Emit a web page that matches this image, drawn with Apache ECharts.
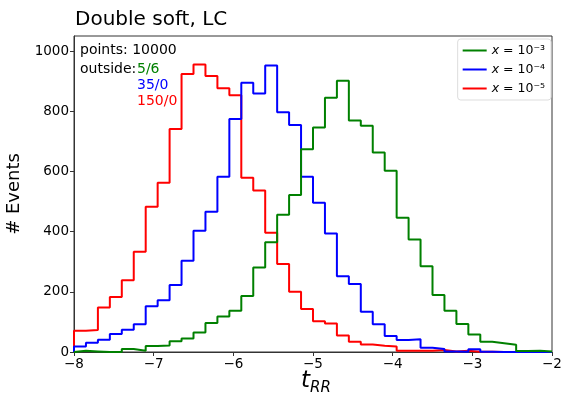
<!DOCTYPE html>
<html>
<head>
<meta charset="utf-8">
<script src="https://cdn.jsdelivr.net/npm/echarts@6/dist/echarts.min.js"></script>
<style>html,body{margin:0;padding:0;background:#fff;}#c{width:562px;height:395px;}</style>
</head>
<body>
<div id="c"></div>
<script>
// ---- data ----
var binStart = -8, binWidth = 0.15, nBins = 40;
var seriesNames = ['x = 10⁻³', 'x = 10⁻⁴', 'x = 10⁻⁵'];
var green = [4,2,0,0,10,4,20,22,36,45,65,96,118,137,186,281,365,456,522,674,746,845,901,769,752,663,602,446,374,285,189,137,93,58,34,29,24,3,4,2];
var blue  = [18,31,41,60,74,92,152,172,223,303,403,466,582,774,895,859,952,797,754,582,496,394,252,226,134,92,53,40,42,14,10,2,1,9,1,0,0,0,0,0];
var red   = [71,73,148,183,238,333,483,562,741,924,955,917,876,853,579,537,396,292,200,143,102,95,55,34,25,21,18,4,4,4,7,2,4,1,1,0,0,0,0,0];
var xTicks = [-8,-7,-6,-5,-4,-3,-2];
var yTicks = [0,200,400,600,800,1000];
var outsideLabels = ['5/6','35/0','150/0'];
var pointsLabel = 'points: 10000';
var colors = ['#008000','#0000ff','#ff0000'];

function stepData(vals){
  var d = [[binStart, 0]];
  for (var i = 0; i < vals.length; i++) d.push([binStart + i*binWidth, vals[i]]);
  var end = binStart + vals.length*binWidth;
  d.push([end, vals[vals.length-1]]);
  d.push([end, 0]);
  return d;
}
var FONT = 'DejaVu Sans';
var chart = echarts.init(document.getElementById('c'), null, {renderer:'canvas'});
var allVals = [green, blue, red];
var series = allVals.map(function(v, k){
  return {
    name: seriesNames[k], type: 'line', step: 'end', data: stepData(v),
    showSymbol: false, symbol: 'none',
    lineStyle: {color: colors[k], width: 2}, itemStyle: {color: colors[k]},
    z: 3 - k
  };
});
chart.setOption({
  animation: false,
  backgroundColor: '#fff',
  title: {text: 'Double soft, LC', left: 70, top: 5, textStyle: {fontFamily: FONT, fontSize: 20, fontWeight: 'normal', color: '#000'}},
  grid: {left: 74, right: 10, top: 36, bottom: 43, show: true, borderColor: '#333', borderWidth: 1, containLabel: false, outerBoundsMode: 'none'},
  xAxis: {
    type: 'value', min: -8, max: -2, interval: 1,
    axisLine: {show: true, onZero: false, lineStyle: {color: '#333', width: 1}},
    axisTick: {show: true, inside: false, length: 4, lineStyle: {color: '#333'}},
    splitLine: {show: false},
    axisLabel: {margin: 5, fontFamily: FONT, fontSize: 13.5, color: '#000', hideOverlap: false,
      formatter: function(v){ return (v < 0 ? '−' : '') + Math.abs(v); }}
  },
  yAxis: {
    type: 'value', min: 0, max: 1050,
    name: '# Events', nameLocation: 'middle', nameGap: 45,
    nameTextStyle: {fontFamily: FONT, fontSize: 18, color: '#000'},
    axisLine: {show: true, lineStyle: {color: '#333', width: 1}},
    axisTick: {show: true, inside: false, length: 4, lineStyle: {color: '#333'}, customValues: yTicks},
    splitLine: {show: false},
    axisLabel: {margin: 5, fontFamily: FONT, fontSize: 13.5, color: '#000', customValues: yTicks,
      formatter: function(v){ return String(v); }}
  },
  legend: {
    orient: 'vertical', right: 11, top: 39, data: seriesNames,
    icon: 'rect', itemWidth: 24, itemHeight: 2, itemGap: 6,
    backgroundColor: '#fff', borderColor: '#ddd', borderWidth: 1, borderRadius: 3,
    padding: [5, 6, 5, 5],
    formatter: function(n){ return '{i|x}' + n.slice(1); },
    textStyle: {fontFamily: FONT, fontSize: 12.5, color: '#000', rich: {i: {fontFamily: FONT, fontStyle: 'italic', fontSize: 12.5}}}
  },
  graphic: [
    {type: 'text', left: 80, top: 43, style: {text: pointsLabel, fontFamily: FONT, fontSize: 14, fill: '#000'}},
    {type: 'text', left: 80, top: 62, style: {text: 'outside:', fontFamily: FONT, fontSize: 14, fill: '#000'}},
    {type: 'text', left: 137, top: 62, style: {text: outsideLabels[0], fontFamily: FONT, fontSize: 14, fill: colors[0]}},
    {type: 'text', left: 137, top: 78, style: {text: outsideLabels[1], fontFamily: FONT, fontSize: 14, fill: colors[1]}},
    {type: 'text', left: 137, top: 94, style: {text: outsideLabels[2], fontFamily: FONT, fontSize: 14, fill: colors[2]}},
    {type: 'text', left: 301, top: 370, style: {text: 't', fontFamily: FONT, fontStyle: 'italic', fontSize: 23, fill: '#000'}},
    {type: 'text', left: 310, top: 381, style: {text: 'RR', fontFamily: FONT, fontStyle: 'italic', fontSize: 15, fill: '#000'}}
  ],
  series: series
});
</script>
</body>
</html>
